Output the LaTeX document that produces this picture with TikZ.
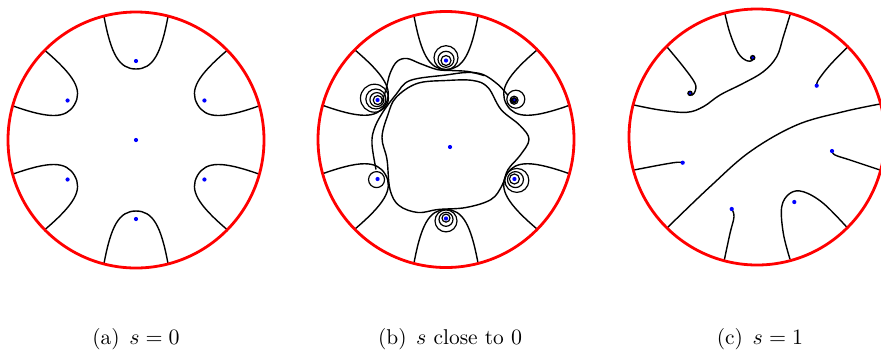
\documentclass[tikz,border=0pt]{standalone}
\usepackage{amsmath}

\begin{document}
\begin{tikzpicture}[x=0.5pt, y=0.5pt,
  rim/.style={red, line width=1.4pt},
  flow/.style={black, line width=0.7pt},
  swirl/.style={black, line width=0.6pt},
  zero/.style={blue}]

% --- PARAMETERS ---
\def\R{128}    % radius of the disk
\def\rd{79}    % radius of the ring of zeros
\def\dotr{2.1} % size of a zero

\useasboundingbox (0,0) rectangle (881,350);

% --- PANEL (a): s = 0 ---
\begin{scope}[shift={(136,210)}]
  \foreach \ang in {30,90,...,330} {
    \draw[flow, rotate=\ang] (123.5,32) .. controls (86,25) and (71,17) .. (71,0)
      .. controls (71,-17) and (86,-25) .. (123.5,-32);
    \fill[zero] (\ang:\rd) circle (\dotr);
  }
  \fill[zero] (0,0) circle (\dotr);
  \draw[rim] (0,0) circle (\R);
\end{scope}

% --- PANEL (b): s close to 0 ---
\begin{scope}[shift={(446,210.5)}]
  % boundary curves
  \foreach \ang in {30,90,...,330} {
    \draw[flow, rotate=\ang] (123.5,32) .. controls (86,25) and (70,17) .. (70,0)
      .. controls (70,-17) and (86,-25) .. (123.5,-32);
  }
  % spirals round the zeros
  \foreach \ang/\rl in {90/{12,8,5}, 150/{14,10,7,4.5}, 30/{9,4,2.5},
                        210/{8}, 330/{12,8,5}, 270/{11,7,4}} {
    \foreach \r in \rl {
      \draw[swirl] (\ang:{\rd+0.4*(\r-5)}) circle (\r);
    }
  }
  % wavy curves round the centre
  \draw[flow] plot[smooth cycle, tension=0.6] coordinates {
    (83,0) (74,-16) (62,-30) (56,-46) (45,-60) (20,-68) (-8,-70) (-28,-73)
    (-47,-66) (-56,-50) (-59,-20) (-64,2) (-58,25) (-50,42) (-29,56) (0,59)
    (27,59) (42,52) (55,30) (74,14)};
  \draw[flow] plot[smooth, tension=0.6] coordinates {
    (-70,-30) (-74,-5) (-72,10) (-64,26) (-50,45) (-36,59) (0,64.5) (21,67)
    (37,65) (52,55) (62,44)};
  \draw[flow] plot[smooth, tension=0.6] coordinates {
    (-64,38) (-60,50) (-56,66) (-49,78) (-39,81) (-26,76) (-9,70) (5,69)
    (22,68) (38,64)};
  % zeros
  \foreach \ang in {30,90,...,330} {
    \fill[zero] (\ang:\rd) circle (\dotr);
  }
  \fill[black] (30:\rd) circle (2.8);
  \fill[zero] (30:\rd) circle (1.3);
  \fill[zero] (4,-7.5) circle (\dotr);
  \draw[rim] (0,0) circle (\R);
\end{scope}

% --- PANEL (c): s = 1 ---
\begin{scope}[shift={(757,213)}]
  \draw[flow] plot[smooth, tension=0.6] coordinates {
    (-89.7,-90.7) (-47,-49.7) (-7,-14.7) (39.7,12) (86.3,25.3) (123,33)};
  \draw[flow] plot[smooth, tension=0.6] coordinates {
    (-123,32) (-97,27) (-70.3,24.7) (-53.7,30.3) (-37,42) (-13.7,53.7)
    (6.3,65.3) (19.7,80.3) (26.3,100.3) (33,122)};
  \draw[flow] plot[smooth, tension=0.6] coordinates {
    (-32,123) (-27,103.7) (-18.7,83.7) (-10.3,76.3) (-5,76.5) (-4.3,79.3)};
  \draw[flow] plot[smooth, tension=0.6] coordinates {
    (-89.7,89.7) (-73.7,70.3) (-62,53.7) (-62,45.5) (-65,42) (-67,43.7)};
  \draw[flow] plot[smooth, tension=0.6] coordinates {
    (90.3,89.7) (73,72) (61.3,57) (59.7,51.3)};
  \draw[flow] plot[smooth, tension=0.6] coordinates {
    (-123,-33) (-97,-28) (-80.3,-25.3) (-74.3,-25.7)};
  \draw[flow] plot[smooth, tension=0.6] coordinates {
    (123,-33) (93,-23) (78,-18) (75,-14)};
  \draw[flow] plot[smooth, tension=0.6] coordinates {
    (-32.7,-123) (-27,-96.3) (-23,-79.7) (-25.3,-72)};
  \draw[flow] plot[smooth, tension=0.6] coordinates {
    (33,-122.3) (26.3,-96.3) (24.7,-69.7) (33,-56.3) (46.3,-54.7)
    (66.3,-66.3) (90.3,-90.7)};
  % zeros
  \foreach \p in {(-4.3,79.3), (-67,43.7)} {
    \fill[black] \p circle (2.8);
    \fill[zero] \p circle (1.3);
  }
  \foreach \p in {(59.7,51.3), (-74.3,-25.7), (75,-14), (-25.3,-72), (37.3,-65)} {
    \fill[zero] \p circle (\dotr);
  }
  \draw[rim] (0,0) circle (\R);
\end{scope}

% --- CAPTIONS ---
\begin{scope}[font=\fontsize{10.7}{13}\selectfont]
  \node[anchor=base] (capA) at (136,5.5) {(a)\hspace{0.45em}$s=0$};
  \node[anchor=base] (capB) at (450,5.5) {(b)\hspace{0.45em}$s$ close to $0$};
  \node[anchor=base] (capC) at (760,5.5) {(c)\hspace{0.45em}$s=1$};
\end{scope}

\end{tikzpicture}
\end{document}
